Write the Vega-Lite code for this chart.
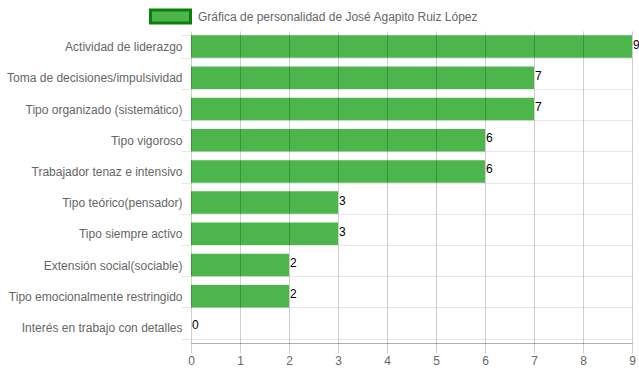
{
  "$schema": "https://vega.github.io/schema/vega-lite/v6.json",
  "width": 441,
  "height": 312,
  "autosize": {"type": "none"},
  "padding": {"left": 191, "top": 31, "right": 7, "bottom": 29},
  "config": {
    "view": {"stroke": null},
    "font": "Liberation Sans"
  },
  "data": {
    "values": [
      {"rasgo": "Actividad de liderazgo", "valor": 9, "serie": "Gráfica de personalidad de José Agapito Ruiz López"},
      {"rasgo": "Toma de decisiones/impulsividad", "valor": 7, "serie": "Gráfica de personalidad de José Agapito Ruiz López"},
      {"rasgo": "Tipo organizado (sistemático)", "valor": 7, "serie": "Gráfica de personalidad de José Agapito Ruiz López"},
      {"rasgo": "Tipo vigoroso", "valor": 6, "serie": "Gráfica de personalidad de José Agapito Ruiz López"},
      {"rasgo": "Trabajador tenaz e intensivo", "valor": 6, "serie": "Gráfica de personalidad de José Agapito Ruiz López"},
      {"rasgo": "Tipo teórico(pensador)", "valor": 3, "serie": "Gráfica de personalidad de José Agapito Ruiz López"},
      {"rasgo": "Tipo siempre activo", "valor": 3, "serie": "Gráfica de personalidad de José Agapito Ruiz López"},
      {"rasgo": "Extensión social(sociable)", "valor": 2, "serie": "Gráfica de personalidad de José Agapito Ruiz López"},
      {"rasgo": "Tipo emocionalmente restringido", "valor": 2, "serie": "Gráfica de personalidad de José Agapito Ruiz López"},
      {"rasgo": "Interés en trabajo con detalles", "valor": 0, "serie": "Gráfica de personalidad de José Agapito Ruiz López"}
    ]
  },
  "encoding": {
    "y": {
      "field": "rasgo",
      "type": "nominal",
      "sort": null,
      "title": null,
      "scale": {"paddingInner": 0.28, "paddingOuter": 0.14},
      "axis": {
        "domain": false,
        "ticks": true,
        "tickSize": 10,
        "tickColor": "rgba(0,0,0,0.09)",
        "tickBand": "extent",
        "grid": true,
        "gridColor": "rgba(0,0,0,0.09)",
        "labelPadding": -1,
        "labelFontSize": 12,
        "labelColor": "#666",
        "labelFont": "Liberation Sans",
        "labelLimit": 300
      }
    },
    "x": {
      "field": "valor",
      "type": "quantitative",
      "title": null,
      "scale": {"domain": [0, 9], "nice": false},
      "axis": {
        "values": [0, 1, 2, 3, 4, 5, 6, 7, 8, 9],
        "zindex": 1,
        "grid": true,
        "gridColor": "rgba(0,0,0,0.19)",
        "domain": true,
        "domainColor": "rgba(0,0,0,0.3)",
        "ticks": true,
        "tickSize": 10,
        "tickColor": "rgba(0,0,0,0.19)",
        "labelPadding": 2,
        "labelFontSize": 12,
        "labelColor": "#666",
        "labelFont": "Liberation Sans",
        "labelFlush": false
      }
    }
  },
  "layer": [
    {
      "mark": {"type": "bar", "opacity": 1},
      "encoding": {
        "color": {
          "field": "serie",
          "type": "nominal",
          "scale": {"range": ["#4cb64c"]},
          "legend": {
            "title": null,
            "orient": "none",
            "legendX": -42,
            "legendY": -36,
            "symbolType": "M-1,-0.32H1V0.32H-1Z",
            "symbolSize": 1600,
            "symbolStrokeColor": "#0a800a",
            "symbolStrokeWidth": 3,
            "symbolOpacity": 1,
            "labelFontSize": 12,
            "labelColor": "#666",
            "labelFont": "Liberation Sans",
            "labelLimit": 500,
            "labelOffset": 6
          }
        }
      }
    },
    {
      "mark": {"type": "text", "align": "left", "baseline": "middle", "dx": 1, "dy": -2, "fontSize": 12, "color": "#000", "font": "Liberation Sans"},
      "encoding": {
        "text": {"field": "valor", "type": "quantitative"}
      }
    }
  ]
}
